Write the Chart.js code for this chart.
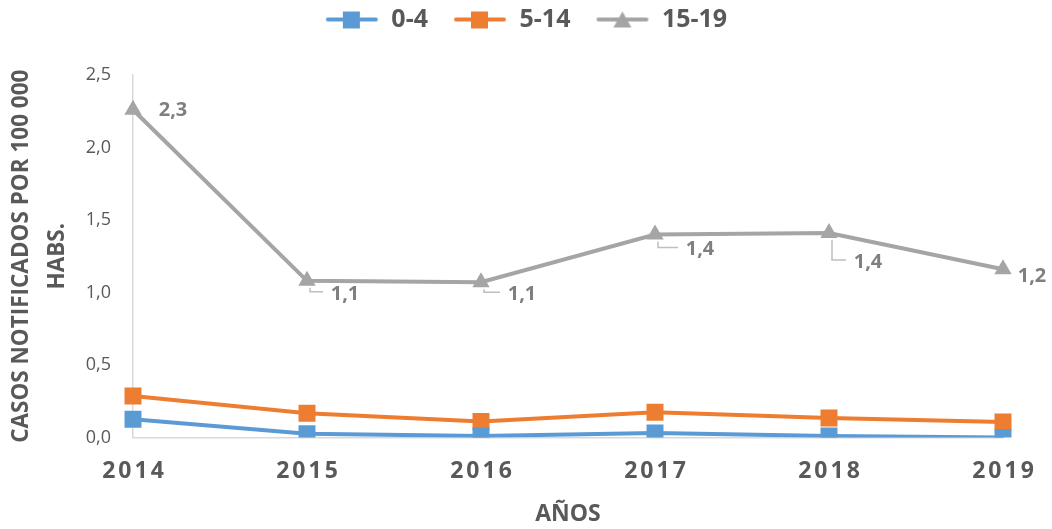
<!DOCTYPE html>
<html>
<head>
<meta charset="utf-8">
<script src="https://cdn.jsdelivr.net/npm/chart.js@4"></script>
<style>
  body { margin: 0; background: #fff; }
  #wrap { width: 1052px; height: 529px; }
</style>
</head>
<body>
<div id="wrap"><canvas id="chart"></canvas></div>
<script>
const years = ["2014", "2015", "2016", "2017", "2018", "2019"];
const g0to4 = [0.125, 0.025, 0.01, 0.03, 0.01, 0.0];
const g5to14 = [0.286, 0.166, 0.11, 0.173, 0.134, 0.107];
const g15to19 = [2.26, 1.08, 1.07, 1.40, 1.41, 1.16];
const yTicks = [0, 0.5, 1.0, 1.5, 2.0, 2.5];

const blue = "#5B9BD5";
const orange = "#ED7D31";
const gray = "#A5A5A5";
const textColor = "#595959";
const fontFam = "'Open Sans', sans-serif";

const fmt = v => v.toFixed(1).replace(".", ",");

// legend icon: line with the marker on top of it
function legendIcon(color, shape) {
  const c = document.createElement("canvas");
  c.width = 54; c.height = 20;
  const x = c.getContext("2d");
  x.strokeStyle = color; x.lineWidth = 4; x.lineCap = "round";
  x.beginPath(); x.moveTo(3, 10); x.lineTo(51, 10); x.stroke();
  x.fillStyle = color;
  if (shape === "rect") {
    x.fillRect(18, 2, 17, 17);
  } else {
    x.beginPath(); x.moveTo(27, 2); x.lineTo(36, 18); x.lineTo(18, 18); x.closePath(); x.fill();
  }
  return c;
}
const icons = [legendIcon(blue, "rect"), legendIcon(orange, "rect"), legendIcon(gray, "tri")];

// label offsets for the 15-19 series (dx, dy from the point), leader = draw callout
const labelPos = [[40, 1, false], [38, 13, true], [41, 12, true], [45, 15, true], [39, 29, true], [29, 7, false]];

const pointLabels = {
  id: "pointLabels",
  afterDatasetsDraw(chart) {
    const ctx = chart.ctx;
    const meta = chart.getDatasetMeta(2);
    ctx.save();
    ctx.font = "bold 20px " + fontFam;
    ctx.fillStyle = "#7F7F7F";
    ctx.strokeStyle = "#BFBFBF";
    ctx.lineWidth = 1.5;
    ctx.textAlign = "center";
    ctx.textBaseline = "middle";
    meta.data.forEach((pt, i) => {
      const [dx, dy, leader] = labelPos[i];
      const lx = pt.x + dx, ly = pt.y + dy;
      if (leader) {
        ctx.beginPath();
        ctx.moveTo(pt.x + 3, pt.y + 7);
        ctx.lineTo(pt.x + 3, ly - 2);
        ctx.lineTo(lx - 22, ly - 2);
        ctx.stroke();
      }
      ctx.fillText(fmt(g15to19[i]), lx, ly);
    });
    ctx.restore();
  }
};

// x tick labels drawn with letter spacing like the original
const xLabels = {
  id: "xLabels",
  afterDraw(chart) {
    const ctx = chart.ctx;
    const xs = chart.scales.x;
    ctx.save();
    ctx.font = "bold 23px " + fontFam;
    ctx.fillStyle = textColor;
    ctx.textAlign = "center";
    ctx.textBaseline = "middle";
    if ("letterSpacing" in ctx) ctx.letterSpacing = "3px";
    years.forEach((y, i) => {
      ctx.fillText(y, xs.getPixelForValue(i) + 1.5, chart.chartArea.bottom + 34);
    });
    ctx.restore();
  }
};

// extra gap below the legend
const legendGap = {
  id: "legendGap",
  beforeLayout(chart) {
    const lg = chart.legend;
    if (lg && !lg._gap) {
      const fit = lg.fit;
      lg.fit = function () { fit.call(this); this.height += 33; };
      lg._gap = true;
    }
  }
};

new Chart(document.getElementById("chart"), {
  type: "line",
  data: {
    labels: years,
    datasets: [
      { label: "0-4", data: g0to4, borderColor: blue, pointStyle: "rect", pointRadius: 12 },
      { label: "5-14", data: g5to14, borderColor: orange, pointStyle: "rect", pointRadius: 12 },
      { label: "15-19", data: g15to19, borderColor: gray, pointStyle: "triangle", pointRadius: 10 }
    ].map(d => Object.assign(d, {
      borderWidth: 4, tension: 0, fill: false,
      backgroundColor: d.borderColor, pointBackgroundColor: d.borderColor,
      pointBorderWidth: 0, pointHoverRadius: d.pointRadius
    }))
  },
  options: {
    responsive: true,
    maintainAspectRatio: false,
    animation: false,
    layout: { padding: { top: -18, left: 0, right: 0, bottom: 0 } },
    plugins: {
      legend: {
        position: "top",
        labels: {
          usePointStyle: true,
          pointStyleWidth: 54,
          boxHeight: 20,
          padding: 25,
          color: textColor,
          font: { family: fontFam, size: 25, weight: "bold" },
          generateLabels: chart => chart.data.datasets.map((d, i) => ({
            text: d.label, pointStyle: icons[i], fillStyle: d.borderColor,
            strokeStyle: d.borderColor, lineWidth: 0, fontColor: textColor,
            hidden: false, datasetIndex: i
          }))
        }
      },
      tooltip: { enabled: false }
    },
    scales: {
      x: {
        offset: false,
        grid: { display: false, drawTicks: false },
        border: { color: "#D9D9D9", width: 1.5 },
        ticks: { display: false },
        title: {
          display: true, text: "AÑOS", color: textColor,
          font: { family: fontFam, size: 23, weight: "bold" },
          padding: { top: 63, bottom: 1 }
        }
      },
      y: {
        min: 0, max: 2.5,
        afterBuildTicks: s => { s.ticks = yTicks.map(v => ({ value: v })); },
        afterFit: s => { s.width = 133; },
        grid: { display: false, drawTicks: false },
        border: { color: "#D9D9D9", width: 1.5 },
        ticks: {
          padding: 22, color: textColor,
          font: { family: fontFam, size: 18 },
          callback: v => fmt(v)
        },
        title: {
          display: true,
          text: ["CASOS NOTIFICADOS POR 100 000", "HABS."],
          color: textColor,
          font: { family: fontFam, size: 22.5, weight: "bold", lineHeight: 1.6 },
          padding: { top: 4, bottom: 0 }
        }
      },
      // empty right-hand spacer so the plot ends where the original does
      right: {
        position: "right",
        grid: { display: false, drawTicks: false },
        border: { display: false },
        ticks: { display: false },
        afterFit: s => { s.width = 49; }
      }
    }
  },
  plugins: [legendGap, pointLabels, xLabels]
});
</script>
</body>
</html>
